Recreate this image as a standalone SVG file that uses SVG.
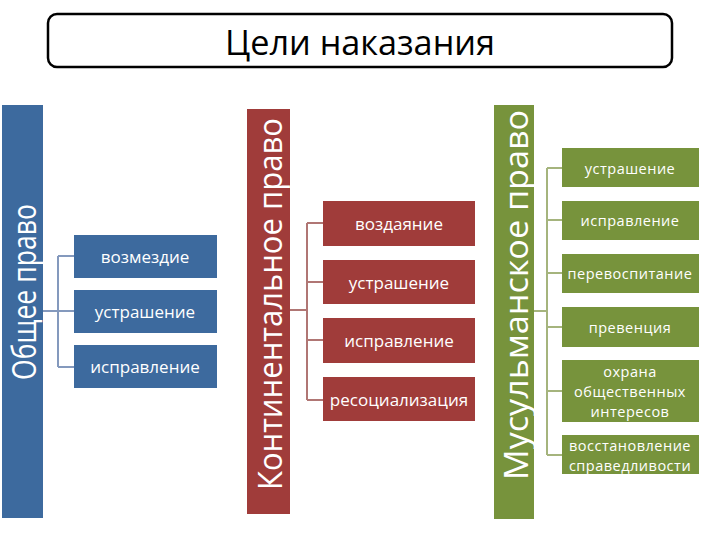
<svg xmlns="http://www.w3.org/2000/svg" width="720" height="540" viewBox="0 0 720 540">
<style>
  .t{font-family:"Open Sans","Noto Sans","Liberation Sans",sans-serif;fill:#fff;text-anchor:middle;dominant-baseline:central}
  .title{font-family:"Open Sans","Noto Sans","Liberation Sans",sans-serif;fill:#000;text-anchor:middle;font-size:34px}
  .bl{fill:#3D6A9E}
  .rd{fill:#A03C3A}
  .gr{fill:#77933C}
  .cb{stroke:#8499BD;stroke-width:2;fill:none}
  .cr{stroke:#B07674;stroke-width:2;fill:none}
  .cg{stroke:#A5B47D;stroke-width:2;fill:none}
  .bx{font-size:17px}
  .gx{font-size:14.5px;letter-spacing:0.5px}
  .v{font-size:32px}
</style>
<rect width="720" height="540" fill="#fff"/>
<g id="title">
  <rect x="48" y="14" width="624" height="53" rx="9" fill="#fff" stroke="#000" stroke-width="2.5"/>
  <text class="title" x="360" y="55" textLength="270" lengthAdjust="spacingAndGlyphs">Цели наказания</text>
</g>
<g id="connectors">
  <path class="cb" d="M43 311H58M58 256V367M58 256H74M58 311H74M58 367H74"/>
  <path class="cr" d="M290 310H307M307 223V400M307 223H323M307 282H323M307 340H323M307 400H323"/>
  <path class="cg" d="M533 311H547M547 168V455M547 168H562M547 220H562M547 273H562M547 327H562M547 391H562M547 455H562"/>
</g>
<g id="common">
  <rect class="bl" x="2" y="105" width="41" height="413"/>
  <text class="t v" transform="translate(23 292) rotate(-90)" textLength="176" lengthAdjust="spacingAndGlyphs">Общее право</text>
</g>
<g id="common-1"><rect class="bl" x="74" y="235" width="143" height="43"/><text class="t bx" x="145" y="256">возмездие</text></g>
<g id="common-2"><rect class="bl" x="74" y="290" width="143" height="43"/><text class="t bx" x="145" y="311">устрашение</text></g>
<g id="common-3"><rect class="bl" x="74" y="345" width="143" height="43"/><text class="t bx" x="145" y="366">исправление</text></g>
<g id="continental">
  <rect class="rd" x="247" y="109" width="43" height="405"/>
  <text class="t v" transform="translate(269 304) rotate(-90)" textLength="372" lengthAdjust="spacingAndGlyphs">Континентальное право</text>
</g>
<g id="cont-1"><rect class="rd" x="323" y="201" width="152" height="45"/><text class="t bx" x="399" y="223">воздаяние</text></g>
<g id="cont-2"><rect class="rd" x="323" y="260" width="152" height="44"/><text class="t bx" x="399" y="282">устрашение</text></g>
<g id="cont-3"><rect class="rd" x="323" y="318" width="152" height="45"/><text class="t bx" x="399" y="340">исправление</text></g>
<g id="cont-4"><rect class="rd" x="323" y="377" width="152" height="44"/><text class="t bx" x="399" y="399">ресоциализация</text></g>
<g id="muslim">
  <rect class="gr" x="494" y="105" width="40" height="414"/>
  <text class="t v" transform="translate(515 295) rotate(-90)" textLength="370" lengthAdjust="spacingAndGlyphs">Мусульманское право</text>
</g>
<g id="mus-1"><rect class="gr" x="562" y="148" width="137" height="39"/><text class="t gx" x="630" y="168">устрашение</text></g>
<g id="mus-2"><rect class="gr" x="562" y="201" width="137" height="39"/><text class="t gx" x="630" y="220">исправление</text></g>
<g id="mus-3"><rect class="gr" x="562" y="254" width="137" height="39"/><text class="t gx" x="630" y="273">перевоспитание</text></g>
<g id="mus-4"><rect class="gr" x="562" y="307" width="137" height="40"/><text class="t gx" x="630" y="327">превенция</text></g>
<g id="mus-5"><rect class="gr" x="562" y="360" width="137" height="62"/>
  <text class="t gx" x="630" y="371">охрана</text>
  <text class="t gx" x="630" y="391">общественных</text>
  <text class="t gx" x="630" y="411">интересов</text></g>
<g id="mus-6"><rect class="gr" x="562" y="435" width="137" height="39"/>
  <text class="t gx" x="630" y="445">восстановление</text>
  <text class="t gx" x="630" y="465">справедливости</text></g>
</svg>
